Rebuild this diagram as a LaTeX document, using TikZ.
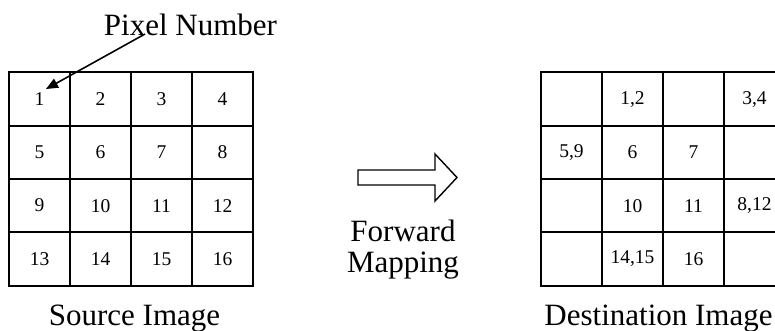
\documentclass[tikz,border=0pt]{standalone}
\usepackage{fontspec}
\setmainfont{Liberation Serif}
\usetikzlibrary{arrows.meta}
\tikzset{
  cell/.style={draw, line width=2pt, minimum width=61pt, minimum height=53.25pt, inner sep=0pt, anchor=north west, font=\fontsize{19.5}{20}\selectfont},
  biglabel/.style={anchor=base, inner sep=0pt, font=\fontsize{31}{32}\selectfont},
  pointer/.style={line width=1.6pt, -{Triangle[length=12pt,width=10pt]}},
  blockarrow/.style={draw, line width=1.4pt, line join=miter}
}
\begin{document}
\begin{tikzpicture}[x=1pt,y=-1pt]
\clip (0,0) rectangle (775,331);
\fill[white] (0,0) rectangle (775,331);
% source grid
\foreach \r/\a/\b/\c/\d in {0/1/2/3/4, 1/5/6/7/8, 2/9/10/11/12, 3/13/14/15/16}{
  \node[cell] (s\a) at (8, {71.5+\r*53.25}) {\a};
  \node[cell] (s\b) at (69, {71.5+\r*53.25}) {\b};
  \node[cell] (s\c) at (130, {71.5+\r*53.25}) {\c};
  \node[cell] (s\d) at (191, {71.5+\r*53.25}) {\d};
}
% destination grid
\foreach \r/\a/\b/\c/\d in {0//1{,}2//3{,}4, 1/5{,}9/6/7/, 2//10/11/8{,}12, 3//14{,}15/16/}{
  \node[cell] (d\r a) at (540, {71.5+\r*53.25}) {\a};
  \node[cell] (d\r b) at (601, {71.5+\r*53.25}) {\b};
  \node[cell] (d\r c) at (662, {71.5+\r*53.25}) {\c};
  \node[cell] (d\r d) at (723, {71.5+\r*53.25}) {\d};
}
% labels
\node[biglabel] (pixnum) at (190.5,36) {Pixel Number};
\node[biglabel] (src) at (134.5,325) {Source Image};
\node[biglabel] (dst) at (658.5,325) {Destination Image};
\node[biglabel] (fwd) at (403,241) {Forward};
\node[biglabel] (map) at (403,272) {Mapping};
% pointer arrow
\coordinate (pstart) at (145,34);
\coordinate (ptip) at (46,89);
\draw[pointer] (pstart) -- (ptip);
% block arrow
\draw[blockarrow] (358,170) -- (435,170) -- (435,154) -- (457,177.5) -- (435,201) -- (435,185) -- (358,185) -- cycle;
\end{tikzpicture}
\end{document}
